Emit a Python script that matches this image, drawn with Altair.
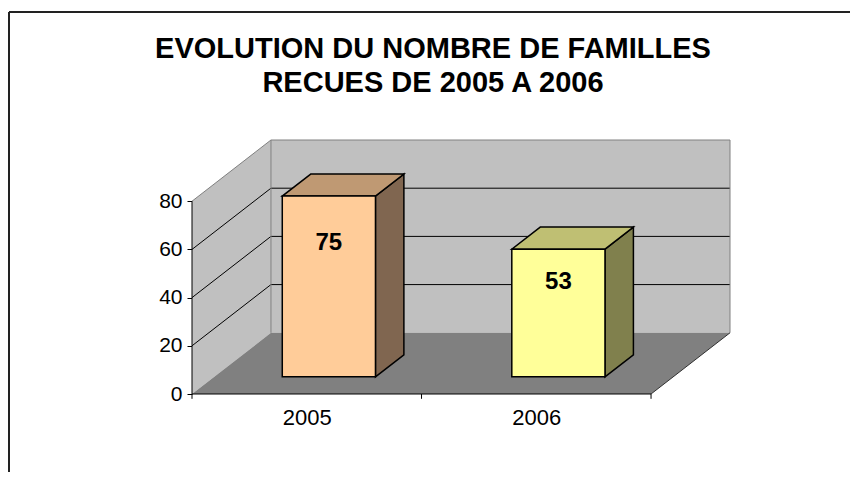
import json
import altair as alt
import pandas as pd

# ---------------- data ----------------
CATEGORIES = ["2005", "2006"]
VALUES = [75, 53]
FRONT_COLORS = ["#FFCC99", "#FFFF99"]
TOP_COLORS = ["#BF9973", "#BFBF73"]
SIDE_COLORS = ["#806650", "#80804D"]
Y_TICKS = [0, 20, 40, 60, 80]
GRID_VALUES = [20, 40, 60]
TITLE_LINES = ["EVOLUTION DU NOMBRE DE FAMILLES", "RECUES DE 2005 A 2006"]

# ---------------- 3D projection settings ----------------
Y_MAX = 80
KX = 0.344      # depth shift along x (category units)
KY = 25.4       # depth shift along y (value units)
HALF_W = 0.203  # half bar width (category units)
T1, T2 = 0.28, 0.64  # bar front / back depth fractions

X_MIN = -0.5
X_MAX = len(CATEGORIES) - 0.5
FONT = "Liberation Sans"

xs = alt.Scale(domain=[X_MIN, X_MAX + KX], nice=False, zero=False)
ys = alt.Scale(domain=[0, Y_MAX + KY], nice=False, zero=False)

AX = alt.Axis(values=[0, 1], labelExpr=f"{json.dumps(CATEGORIES)}[round(datum.value)]",
              ticks=False, domain=False, grid=False, title=None, labelFont=FONT,
              labelFontSize=22, labelColor="black", labelPadding=13, labelFlush=False)
AY = alt.Axis(values=Y_TICKS, domain=False, grid=False, ticks=True, tickSize=5,
              tickColor="black", title=None, labelFont=FONT, labelFontSize=21,
              labelColor="black", labelPadding=5, labelFlush=False)


def X(f):
    return alt.X(f, type="quantitative", scale=xs, axis=AX)


def Y(f):
    return alt.Y(f, type="quantitative", scale=ys, axis=AY)


# ---------------- walls & floor ----------------
left_wall = pd.DataFrame({"x": [X_MIN, X_MIN + KX], "y": [0, KY], "y2": [Y_MAX, Y_MAX + KY]})
back_wall = pd.DataFrame({"x": [X_MIN + KX], "x2": [X_MAX + KX], "y": [KY], "y2": [Y_MAX + KY]})
floor = pd.DataFrame({"y": [0, KY], "x": [X_MIN, X_MIN + KX], "x2": [X_MAX, X_MAX + KX]})

grid_rows = []
for v in GRID_VALUES + [Y_MAX]:
    for i, (gx, gy) in enumerate([(X_MIN, v), (X_MIN + KX, v + KY), (X_MAX + KX, v + KY)]):
        grid_rows.append({"v": v, "o": i, "x": gx, "y": gy, "top": v == Y_MAX})
grid = pd.DataFrame(grid_rows)

wall_edges = pd.DataFrame({"x": [X_MIN + KX, X_MAX + KX], "y": [KY, KY], "y2": [Y_MAX + KY] * 2})
floor_edge = pd.DataFrame({"x": [X_MAX], "x2": [X_MAX + KX], "y": [0], "y2": [KY]})
y_axis_line = pd.DataFrame({"x": [X_MIN], "y": [0], "y2": [Y_MAX]})
x_axis_line = pd.DataFrame({"x": [X_MIN], "x2": [X_MAX], "y": [0]})
x_ticks = pd.DataFrame({"x": [X_MIN + k for k in range(len(CATEGORIES) + 1)], "y": [0] * (len(CATEGORIES) + 1),
                        "y2": [-2] * (len(CATEGORIES) + 1)})

# ---------------- bars ----------------
front_rows, top_rows, side_rows, label_rows = [], [], [], []
for i, (cat, v) in enumerate(zip(CATEGORIES, VALUES)):
    front_rows.append({"cat": cat, "fill": FRONT_COLORS[i],
                       "x": i - HALF_W + T1 * KX, "x2": i + HALF_W + T1 * KX,
                       "y": T1 * KY, "y2": v + T1 * KY})
    for t in (T1, T2):
        top_rows.append({"cat": cat, "fill": TOP_COLORS[i], "y": v + t * KY,
                         "x": i - HALF_W + t * KX, "x2": i + HALF_W + t * KX})
        side_rows.append({"cat": cat, "fill": SIDE_COLORS[i], "x": i + HALF_W + t * KX,
                          "y": t * KY, "y2": v + t * KY})
    label_rows.append({"cat": cat, "val": str(v), "x": i + T1 * KX, "y": 0.74 * v + T1 * KY})
front = pd.DataFrame(front_rows)
top = pd.DataFrame(top_rows)
side = pd.DataFrame(side_rows)
labels = pd.DataFrame(label_rows)

# ---------------- layers ----------------
l_left = alt.Chart(left_wall).mark_area(orient="vertical", color="#C0C0C0").encode(
    x=X("x"), y=Y("y"), y2="y2")
l_back = alt.Chart(back_wall).mark_rect(color="#C0C0C0").encode(x=X("x"), x2="x2", y=Y("y"), y2="y2")
l_floor = alt.Chart(floor).mark_area(orient="horizontal", color="#808080").encode(
    y=Y("y"), x=X("x"), x2="x2")
l_grid = alt.Chart(grid).transform_filter("!datum.top").mark_line(color="black", strokeWidth=1).encode(
    x=X("x"), y=Y("y"), detail="v:N", order="o:Q")
l_topedge = alt.Chart(grid).transform_filter("datum.top").mark_line(color="#808080", strokeWidth=1).encode(
    x=X("x"), y=Y("y"), detail="v:N", order="o:Q")
l_wedges = alt.Chart(wall_edges).mark_rule(color="#808080", strokeWidth=1).encode(x=X("x"), y=Y("y"), y2="y2")
l_fedge = alt.Chart(floor_edge).mark_rule(color="#303030", strokeWidth=1).encode(
    x=X("x"), x2="x2", y=Y("y"), y2="y2")
l_yaxis = alt.Chart(y_axis_line).mark_rule(color="black", strokeWidth=1).encode(x=X("x"), y=Y("y"), y2="y2")
l_xaxis = alt.Chart(x_axis_line).mark_rule(color="black", strokeWidth=1).encode(x=X("x"), x2="x2", y=Y("y"))
l_xticks = alt.Chart(x_ticks).mark_rule(color="black", strokeWidth=1).encode(x=X("x"), y=Y("y"), y2="y2")

l_side = alt.Chart(side).mark_area(orient="vertical", stroke="black", strokeWidth=1.5,
                                   strokeJoin="miter").encode(
    x=X("x"), y=Y("y"), y2="y2", detail="cat:N", color=alt.Color("fill:N", scale=None))
l_top = alt.Chart(top).mark_area(orient="horizontal", stroke="black", strokeWidth=1.5,
                                 strokeJoin="miter").encode(
    y=Y("y"), x=X("x"), x2="x2", detail="cat:N", color=alt.Color("fill:N", scale=None))
l_front = alt.Chart(front).mark_rect(stroke="black", strokeWidth=1.5).encode(
    x=X("x"), x2="x2", y=Y("y"), y2="y2", color=alt.Color("fill:N", scale=None))
l_labels = alt.Chart(labels).mark_text(font=FONT, fontSize=24, fontWeight="bold", color="black",
                                       baseline="middle", align="center").encode(
    x=X("x"), y=Y("y"), text="val:N")

title_df = pd.DataFrame({"line": TITLE_LINES})
l_title1 = alt.Chart(title_df).transform_filter(f"datum.line == '{TITLE_LINES[0]}'").mark_text(
    font=FONT, fontSize=29, fontWeight="bold", color="black", align="center", baseline="alphabetic").encode(
    x=alt.value(241), y=alt.value(-82), text="line:N")
l_title2 = alt.Chart(title_df).transform_filter(f"datum.line == '{TITLE_LINES[1]}'").mark_text(
    font=FONT, fontSize=29, fontWeight="bold", color="black", align="center", baseline="alphabetic").encode(
    x=alt.value(241), y=alt.value(-48), text="line:N")

l_border_top = alt.Chart(title_df).mark_rule(color="#222222", strokeWidth=2).encode(
    x=alt.value(-183), x2=alt.value(700), y=alt.value(-128))
l_border_left = alt.Chart(title_df).mark_rule(color="#222222", strokeWidth=2).encode(
    x=alt.value(-183), y=alt.value(-128), y2=alt.value(400))

chart = alt.layer(
    l_left, l_back, l_floor, l_grid, l_topedge, l_wedges, l_fedge,
    l_yaxis, l_xaxis, l_xticks,
    l_side, l_top, l_front, l_labels,
    l_title1, l_title2, l_border_top, l_border_left,
).properties(
    width=538, height=254,
    autosize=alt.AutoSizeParams(type="none"),
    padding={"left": 184, "top": 132, "right": 120, "bottom": 78},
    background="white",
).configure_view(stroke=None)

chart.save("out.html", embed_options={"renderer": "svg", "actions": False})
